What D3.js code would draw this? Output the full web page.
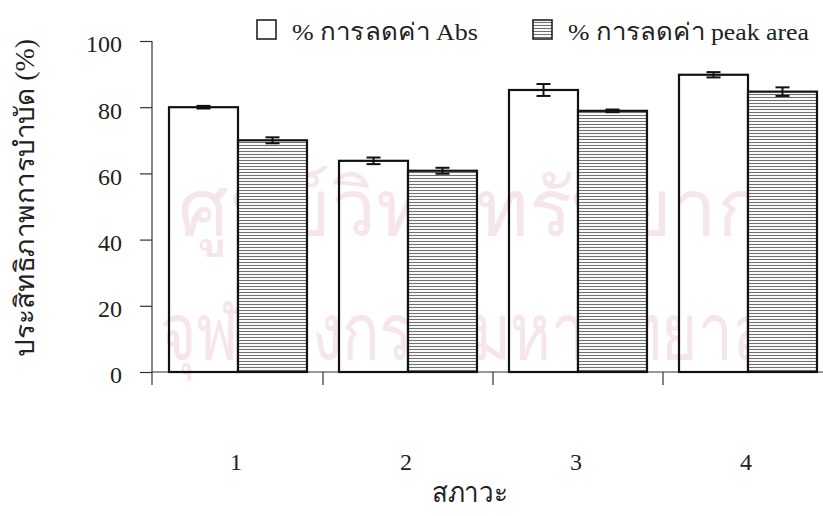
<!DOCTYPE html>
<html>
<head>
<meta charset="utf-8">
<script src="https://cdn.jsdelivr.net/npm/d3@7"></script>
<style>
  html, body { margin: 0; padding: 0; background: #fff; }
  svg { display: block; }
  text { font-family: "Liberation Serif", "Times New Roman", serif; fill: #222; }
</style>
</head>
<body>
<svg id="chart" width="823" height="516"></svg>
<script>
// Treatment conditions and removal efficiencies
const conditions = ["1", "2", "3", "4"];
const absValues = [80.0, 63.8, 85.2, 89.8];
const absErrors = [0.4, 1.0, 1.8, 0.8];
const peakValues = [70.0, 60.8, 78.9, 84.7];
const peakErrors = [0.9, 0.9, 0.4, 1.3];
const yTicks = [0, 20, 40, 60, 80, 100];
const seriesNames = ["% การลดค่า Abs", "% การลดค่า peak area"];
const watermarkLines = ["ศูนย์วิทยทรัพยากร", "จุฬาลงกรณ์มหาวิทยาลัย"];

const svg = d3.select("#chart");
const W = 823, H = 516;

const x = d3.scaleBand().domain(conditions).range([153, 833]).paddingInner(0).paddingOuter(0);
const y = d3.scaleLinear().domain([0, 100]).range([372, 41]);
const sub = d3.scaleBand().domain([0, 1]).range([16, x.bandwidth() - 16]).padding(0);

// hatch pattern for the peak-area series
const defs = svg.append("defs");
const pat = defs.append("pattern").attr("id", "hatch").attr("patternUnits", "userSpaceOnUse")
  .attr("width", 6).attr("height", 3);
pat.append("rect").attr("width", 6).attr("height", 3).attr("fill", "#fff");
pat.append("line").attr("x1", 0).attr("x2", 6).attr("y1", 1.5).attr("y2", 1.5)
  .attr("stroke", "#707070").attr("stroke-width", 1.1);

// faint background watermark, each line squeezed to fit its slot
const wm = svg.append("g").style("font-family", "'Noto Sans Thai', 'Loma', 'Garuda', 'Noto Sans', sans-serif");
const wmSlots = [{ x: 178, y: 236, w: 630 }, { x: 160, y: 360, w: 650 }];
watermarkLines.forEach((line, i) => {
  const slot = wmSlots[i];
  const g = wm.append("g");
  const t = g.append("text").attr("x", 0).attr("y", 0).attr("font-size", 80)
    .style("fill", "#f6e5ed").text(line);
  const bb = t.node().getBBox();
  const k = Math.min(1, slot.w / bb.width);
  g.attr("transform", `translate(${slot.x - bb.x * k},${slot.y}) scale(${k},1)`);
});

// y axis
const yAxis = svg.append("g").attr("transform", "translate(152,0)")
  .call(d3.axisLeft(y).tickValues(yTicks).tickSize(12).tickPadding(18).tickSizeOuter(0));
yAxis.select(".domain").remove();
yAxis.append("line").attr("x1", 0).attr("x2", 0).attr("y1", y(100)).attr("y2", y(0) + 13)
  .attr("stroke", "#333").attr("stroke-width", 1.2);
yAxis.selectAll(".tick line").attr("stroke", "#333").attr("stroke-width", 1.2);
yAxis.selectAll(".tick text").attr("font-size", 24).attr("dy", "0.45em")
  .style("font-family", "'Liberation Serif', serif").attr("fill", "#222");

// x axis baseline and boundary ticks
svg.append("line").attr("x1", 152).attr("x2", W).attr("y1", y(0)).attr("y2", y(0))
  .attr("stroke", "#333").attr("stroke-width", 1.2);
svg.append("g").selectAll("line").data(conditions.slice(1)).join("line")
  .attr("x1", d => x(d)).attr("x2", d => x(d)).attr("y1", y(0)).attr("y2", y(0) + 13)
  .attr("stroke", "#333").attr("stroke-width", 1.2);
svg.append("g").selectAll("text").data(conditions).join("text")
  .attr("x", d => x(d) + x.bandwidth() / 2 - 2).attr("y", 470)
  .attr("text-anchor", "middle").attr("font-size", 24).text(d => d);

// bars
const series = [
  { vals: absValues, errs: absErrors, fill: "#fff" },
  { vals: peakValues, errs: peakErrors, fill: "url(#hatch)" }
];
series.forEach((s, si) => {
  const g = svg.append("g");
  g.selectAll("rect").data(conditions).join("rect")
    .attr("x", d => x(d) + sub(si)).attr("width", sub.bandwidth())
    .attr("y", (d, i) => y(s.vals[i])).attr("height", (d, i) => y(0) - y(s.vals[i]))
    .attr("fill", s.fill).attr("fill-opacity", si === 0 ? 0 : 1)
    .attr("stroke", "#111").attr("stroke-width", 2.2);
  // error bars
  const eg = g.append("g").attr("stroke", "#111").attr("stroke-width", 2);
  conditions.forEach((d, i) => {
    const cx = x(d) + sub(si) + sub.bandwidth() / 2;
    const lo = y(s.vals[i] - s.errs[i]), hi = y(s.vals[i] + s.errs[i]);
    eg.append("line").attr("x1", cx).attr("x2", cx).attr("y1", lo).attr("y2", hi);
    eg.append("line").attr("x1", cx - 7).attr("x2", cx + 7).attr("y1", lo).attr("y2", lo);
    eg.append("line").attr("x1", cx - 7).attr("x2", cx + 7).attr("y1", hi).attr("y2", hi);
  });
});

// legend
const legend = svg.append("g");
const legendX = [257, 533];
const legendLen = [186, 241];
seriesNames.forEach((name, i) => {
  legend.append("rect").attr("x", legendX[i]).attr("y", 20).attr("width", 19).attr("height", 19)
    .attr("fill", i === 0 ? "#fff" : "url(#hatch)").attr("stroke", "#222").attr("stroke-width", 1.6);
  legend.append("text").attr("x", legendX[i] + 35).attr("y", 40).attr("font-size", 24)
    .attr("textLength", legendLen[i]).attr("lengthAdjust", "spacingAndGlyphs").text(name);
});

// axis titles
svg.append("text").attr("transform", "translate(34,198) rotate(-90)")
  .attr("text-anchor", "middle").attr("font-size", 27)
  .attr("textLength", 318).attr("lengthAdjust", "spacingAndGlyphs")
  .text("ประสิทธิภาพการบำบัด (%)");
svg.append("text").attr("x", 470).attr("y", 502).attr("text-anchor", "middle")
  .attr("font-size", 28).attr("textLength", 76).attr("lengthAdjust", "spacingAndGlyphs")
  .text("สภาวะ");
</script>
</body>
</html>
